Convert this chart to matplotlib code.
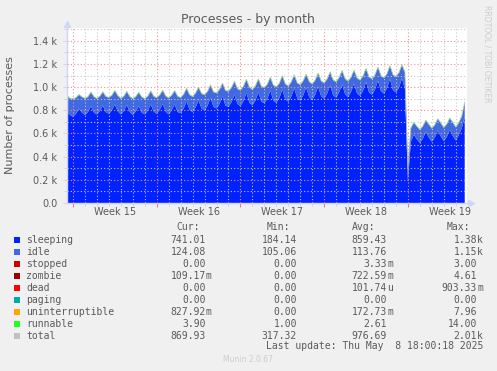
import numpy as np
import matplotlib
matplotlib.use("Agg")
import matplotlib.pyplot as plt
from matplotlib.patches import Rectangle
from matplotlib.ticker import FixedLocator, MultipleLocator, FuncFormatter

# samples every 6 hours, day 0 = start of week 15 (Mon 7 Apr 2025)
sleeping = [
    790, 760,
    745, 770, 815, 780,
    760, 785, 835, 780,
    765, 795, 840, 785,
    770, 800, 850, 790,
    765, 795, 845, 785,
    760, 790, 835, 780,
    765, 795, 850, 790,
    770, 805, 855, 790,
    765, 800, 850, 785,
    775, 815, 875, 805,
    785, 825, 885, 815,
    800, 840, 905, 830,
    815, 855, 920, 840,
    830, 870, 935, 855,
    835, 880, 950, 865,
    845, 885, 955, 875,
    860, 900, 970, 885,
    865, 905, 980, 895,
    875, 920, 990, 905,
    885, 930, 995, 915,
    890, 935, 1005, 920,
    900, 945, 1015, 930,
    910, 955, 1025, 940,
    915, 960, 1030, 945,
    925, 970, 1045, 955,
    935, 980, 1055, 965,
    945, 990, 1070, 975,
    955, 995, 1075, 985,
    190, 530, 590, 550,
    520, 555, 615, 565,
    530, 565, 625, 575,
    535, 570, 630, 580,
    540, 585, 645, 741,
]
idle = [
    135, 140,
    150, 135, 118, 132,
    140, 128, 118, 135,
    135, 124, 116, 132,
    138, 126, 117, 134,
    134, 122, 114, 130,
    138, 125, 117, 132,
    132, 122, 113, 128,
    135, 123, 114, 131,
    138, 126, 116, 133,
    132, 121, 111, 127,
    131, 120, 109, 126,
    130, 119, 109, 125,
    131, 120, 111, 127,
    133, 122, 112, 129,
    134, 123, 113, 130,
    132, 121, 111, 128,
    133, 122, 112, 129,
    134, 123, 113, 130,
    132, 121, 111, 128,
    133, 122, 112, 129,
    134, 123, 113, 130,
    132, 122, 112, 129,
    133, 123, 113, 130,
    134, 124, 114, 131,
    133, 122, 112, 129,
    134, 123, 113, 130,
    133, 122, 112, 129,
    134, 124, 114, 140,
    110, 115, 102, 110,
    112, 106, 98, 112,
    113, 107, 99, 113,
    114, 108, 100, 114,
    112, 104, 100, 124,
]
# per-day values (day -1 .. day 32)
stopped = [0, 0, 0, 0, 0, 0, 0, 0, 0, 0, 0, 0, 0, 0, 0, 0, 0,
           0, 0, 0, 0, 0.1, 0, 0, 0, 0, 0, 0, 0, 0, 0, 0, 0, 0]
zombie = [0, 1, 1, 0, 1, 1, 0, 1, 1, 1, 0, 1, 1, 1, 0, 1, 1,
          0, 1, 1, 1, 0, 1, 1, 0, 1, 1, 0, 1, 0, 0, 0, 0, 0.1]
dead = [0] * 34
paging = [0] * 34
uninterruptible = [0.2, 0.1, 0.2, 0.2, 0.1, 0.2, 0.1, 0.2, 0.2, 0.1, 0.2, 0.2,
                   0.1, 0.2, 0.2, 0.1, 0.2, 0.2, 0.1, 0.2, 0.2, 0.1, 0.2, 0.2,
                   0.1, 0.2, 0.2, 0.1, 0.3, 0.2, 0.1, 0.2, 0.2, 0.8]
runnable = [2.5, 2.6, 2.4, 2.7, 2.5, 2.6, 2.8, 2.5, 2.6, 2.7, 2.4, 2.6, 2.7,
            2.5, 2.6, 2.8, 2.6, 2.5, 2.7, 2.6, 2.5, 2.8, 2.6, 2.7, 2.5, 2.6,
            2.7, 2.6, 2.9, 2.4, 2.5, 2.6, 2.7, 3.9]

legend_rows = [
    ("sleeping", "#0022ff", "741.01", "184.14", "859.43", "1.38k"),
    ("idle", "#4169e1", "124.08", "105.06", "113.76", "1.15k"),
    ("stopped", "#cc0000", "0.00", "0.00", "3.33m", "3.00"),
    ("zombie", "#990000", "109.17m", "0.00", "722.59m", "4.61"),
    ("dead", "#ff0000", "0.00", "0.00", "101.74u", "903.33m"),
    ("paging", "#00aaaa", "0.00", "0.00", "0.00", "0.00"),
    ("uninterruptible", "#ffa500", "827.92m", "0.00", "172.73m", "7.96"),
    ("runnable", "#22ff22", "3.90", "1.00", "2.61", "14.00"),
    ("total", "#c0c0c0", "869.93", "317.32", "976.69", "2.01k"),
]
week_labels = ["Week 15", "Week 16", "Week 17", "Week 18", "Week 19"]

W, H = 497, 371
txt = "#5a5a5a"

t = -0.5 + 0.25 * np.arange(len(sleeping))
day_idx = (np.floor(t) + 1).astype(int)
small = [np.array(s, dtype=float)[day_idx] for s in
         (stopped, zombie, dead, paging, uninterruptible, runnable)]
layers = [np.array(sleeping, float), np.array(idle, float)] + small
colors = [r[1] for r in legend_rows[:8]]
total = np.sum(layers, axis=0)

fig = plt.figure(figsize=(W / 100, H / 100), dpi=100, facecolor="#f0f0f0")
ax = fig.add_axes([67 / W, 1 - 203 / H, 400 / W, 175 / H])
ax.set_facecolor("white")

ax.stackplot(t, *layers, colors=colors, linewidth=0)
ax.plot(t, total, color="#22ff22", lw=0.5, alpha=0.35)
ax.plot(t, total, color="#b8b8b8", lw=0.6, alpha=0.7)

ax.set_xlim(-0.5, 32.94)
ax.set_ylim(0, 1510)

ax.xaxis.set_major_locator(FixedLocator([0, 7, 14, 21, 28]))
ax.xaxis.set_minor_locator(MultipleLocator(1))
ax.yaxis.set_major_locator(MultipleLocator(200))
ax.yaxis.set_minor_locator(MultipleLocator(100))
ax.yaxis.set_major_formatter(FuncFormatter(lambda v, p: "0.0" if v == 0 else f"{v / 1000:.1f} k"))
ax.xaxis.set_major_formatter(FuncFormatter(lambda v, p: ""))

ax.set_axisbelow(False)
ax.grid(which="major", color="#f09090", linestyle=(0, (1, 2)), lw=0.8)
ax.grid(which="minor", color="#c8c8c8", linestyle=(0, (1, 2)), lw=0.8)

ax.tick_params(axis="y", which="both", length=3, color="#d8d8d8", labelsize=7,
               labelcolor=txt, pad=4)
ax.tick_params(axis="x", which="major", length=3, color="#f08080")
ax.tick_params(axis="x", which="minor", length=2, color="#d0d0d0")

for s in ["top", "right"]:
    ax.spines[s].set_visible(False)
for s in ["left", "bottom"]:
    ax.spines[s].set_color("#cfd6f8")
    ax.spines[s].set_linewidth(1)

ax.plot([0], [1.025], marker="^", ms=4, color="#cfd6f8", transform=ax.transAxes, clip_on=False)
ax.plot([1.01], [0], marker=">", ms=4, color="#cfd6f8", transform=ax.transAxes, clip_on=False)

for i, lab in enumerate(week_labels):
    ax.text(3.5 + 7 * i, -0.05, lab, transform=ax.get_xaxis_transform(),
            ha="center", va="center", fontsize=7, color=txt)


def px(x, y):
    return x / W, 1 - y / H


fig.text(*px(248, 19), "Processes - by month", ha="center", va="center", fontsize=9, color=txt)
fig.text(*px(10, 115), "Number of processes", ha="center", va="center", rotation=90,
         fontsize=8, color=txt)
fig.text(*px(487, 54), "RRDTOOL / TOBI OETIKER", ha="center", va="center", rotation=270,
         fontsize=5.5, color="#cccccc")

mono = dict(family="DejaVu Sans Mono", fontsize=7, color=txt, va="center")
for lab, x in [("Cur:", 176), ("Min:", 267), ("Avg:", 352), ("Max:", 447)]:
    fig.text(*px(x, 227), lab, ha="left", **mono)

col_right = [206, 297, 387, 477]
for i, row in enumerate(legend_rows):
    y = 240 + 11.95 * i
    fig.patches.append(Rectangle(px(14, y + 3), 6 / W, 6 / H, transform=fig.transFigure,
                                 facecolor=row[1], edgecolor="none"))
    fig.text(*px(26, y), row[0], ha="left", **mono)
    for val, xr in zip(row[2:], col_right):
        if val[-1] in "kmu":
            num, suf = val[:-1], val[-1]
            fig.text(*px(xr, y), suf, ha="left", **mono)
        else:
            num = val
        fig.text(*px(xr, y), num, ha="right", **mono)

fig.text(*px(483, 346), "Last update: Thu May  8 18:00:18 2025", ha="right", **mono)
fig.text(*px(248, 359), "Munin 2.0.67", ha="center", va="center", fontsize=5.5, color="#cccccc")

fig.savefig("out.png", dpi=100, facecolor=fig.get_facecolor())
